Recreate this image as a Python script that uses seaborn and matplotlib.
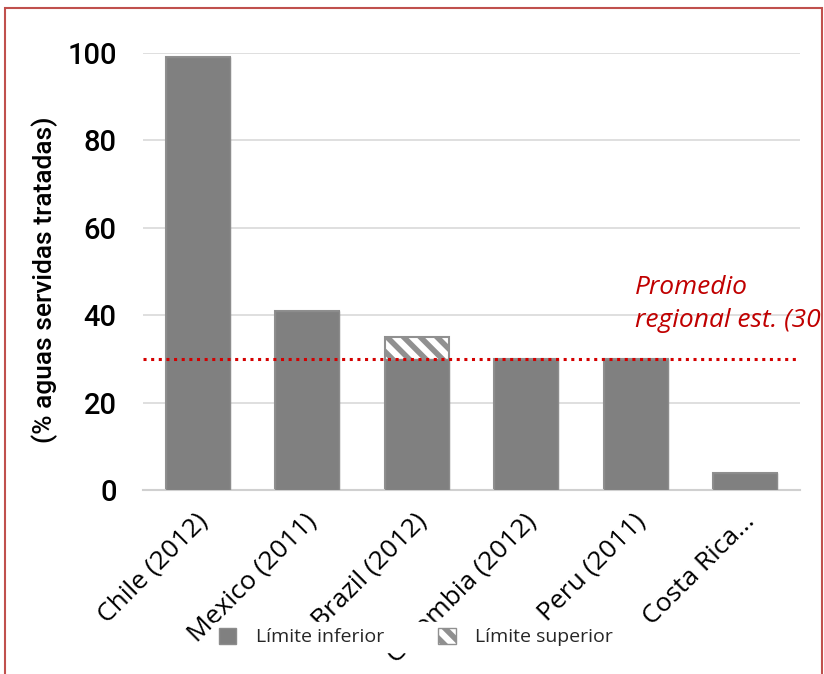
import matplotlib
matplotlib.use("Agg")
import matplotlib.pyplot as plt
from matplotlib import font_manager
from matplotlib.patches import Rectangle, Patch
from matplotlib.transforms import ScaledTranslation, Bbox
import seaborn as sns
import pandas as pd

categories = ["Chile (2012)", "Mexico (2011)", "Brazil (2012)", "Colombia (2012)", "Peru (2011)", "Costa Rica..."]
limite_inferior = [99, 41, 30, 30, 30, 4]
limite_superior = [99, 41, 35, 30, 30, 4]
promedio = 30
yticks = [0, 20, 40, 60, 80, 100]

sns.set_theme(style="white")
names = {f.name for f in font_manager.fontManager.ttflist}
narrow = "Roboto" if "Roboto" in names else "DejaVu Sans"
body = "Open Sans" if "Open Sans" in names else "DejaVu Sans"
plt.rcParams["font.family"] = [body, "DejaVu Sans"]
plt.rcParams["hatch.linewidth"] = 4
plt.rcParams["hatch.color"] = "#8c8c8c"

df = pd.DataFrame({"cat": categories, "inf": limite_inferior, "sup": limite_superior})

fig = plt.figure(figsize=(8.24, 6.74), dpi=100)
ax = fig.add_axes([143 / 824, 1 - 490 / 674, (800 - 143) / 824, (490 - 53) / 674])

sns.barplot(data=df, x="cat", y="sup", ax=ax, color="white", edgecolor="#909090",
            linewidth=1.5, hatch="\\\\", width=0.58, saturation=1, zorder=2)
sns.barplot(data=df, x="cat", y="inf", ax=ax, color="#808080", edgecolor="#8c8c8c",
            linewidth=1, width=0.58, saturation=1, zorder=3)

ax.set_ylim(0, 100)
ax.set_xlim(-0.5, len(categories) - 0.5)
ax.set_yticks(yticks)
ax.set_yticklabels([str(v) for v in yticks], fontsize=21, family=narrow, color="black",
                   fontweight="medium")
ax.yaxis.grid(True, color="#d9d9d9", linewidth=1.2, zorder=0)
ax.set_axisbelow(True)
for s in ["left", "right", "top"]:
    ax.spines[s].set_visible(False)
ax.spines["bottom"].set_color("#d0d0d0")
ax.spines["bottom"].set_linewidth(1.5)
ax.tick_params(axis="y", length=0, pad=19)
ax.tick_params(axis="x", length=0, pad=20)
ax.set_xticks(range(len(categories)))
ax.set_xticklabels(categories, rotation=45, ha="right", va="center", rotation_mode="anchor",
                   fontsize=19, family=body, color="black")
off = ScaledTranslation(6 / 100, 0, fig.dpi_scale_trans)
for lab in ax.get_xticklabels():
    lab.set_transform(lab.get_transform() + off)
ax.set_xlabel("")
ax.set_ylabel("")
fig.text(45 / 824, 1 - 280 / 674, "(% aguas servidas tratadas)", rotation=90, fontsize=19,
         family=narrow, color="black", ha="center", va="center", fontweight="medium")

ax.axhline(promedio, color="#d40000", linestyle=(0, (1, 1.5)), linewidth=2.2, zorder=4)

border = Rectangle((5 / 824, -0.01), 817 / 824, 1 - 8 / 674 + 0.01, transform=fig.transFigure,
                   fill=False, edgecolor="#c0504d", linewidth=1.5)
fig.patches.append(border)

t = fig.text(635 / 824, 1 - 304 / 674, "Promedio\nregional est. (30%)", color="#c00000",
             fontsize=19, style="italic", family=body, va="center", ha="left",
             linespacing=1.45)
t.set_clip_box(Bbox.from_extents(0, 0, 821, 674))
t.set_clip_on(True)

handles = [Patch(facecolor="#808080", edgecolor="#8c8c8c", label="Límite inferior"),
           Patch(facecolor="white", edgecolor="#909090", hatch="\\\\", label="Límite superior")]
leg = fig.legend(handles=handles, loc="center", bbox_to_anchor=(416 / 824, 1 - 637 / 674),
                 ncol=2, frameon=True, fontsize=14, handlelength=0.9, handleheight=0.9,
                 columnspacing=2.8, handletextpad=1.0, borderpad=0.3)
leg.get_frame().set_edgecolor("white")
leg.get_frame().set_facecolor("white")
leg.get_frame().set_alpha(1)

fig.savefig("out.png", dpi=100)
